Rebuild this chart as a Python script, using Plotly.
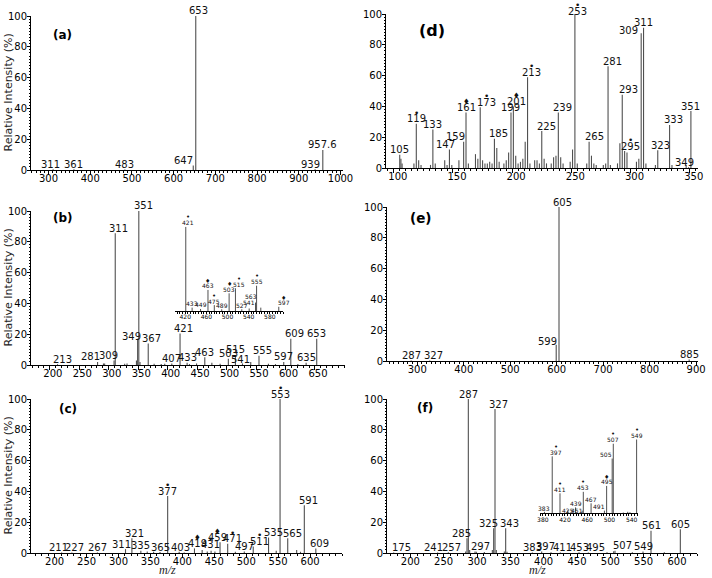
import plotly.graph_objects as go

W, H = 712, 578

# ---------------- data ----------------
y_ticks = [0, 20, 40, 60, 80, 100]

# (a)
a_mz = [311, 361, 483, 647, 653, 939, 957.6]
a_int = [0.5, 0.5, 0.3, 3, 100, 0.5, 13]
a_lab = ["311", "361", "483", "647", "653", "939", "957.6"]
a_ticks = [300, 400, 500, 600, 700, 800, 900, 1000]

# (b) main
b_mz = [213, 281, 309, 311, 349, 351, 367, 407, 421, 433, 463, 503, 515, 541, 555, 597, 609, 635, 653]
b_int = [0.5, 2, 3, 85.5, 17, 100, 14, 1, 20.5, 1.5, 5, 4, 6.5, 2, 6, 2, 17, 1.5, 17]
b_lab = [str(v) for v in b_mz]
b_minor_mz = [291, 293, 327, 331, 347, 353, 377, 389, 395, 437, 449, 475, 489, 527, 571, 583, 621]
b_minor_int = [1, 1, 0.8, 1, 3, 2, 0.8, 0.6, 0.8, 0.6, 1, 1.5, 0.8, 1, 0.8, 0.6, 0.6]
b_ticks = [200, 250, 300, 350, 400, 450, 500, 550, 600, 650]

# (b) inset
bi_mz = [421, 433, 449, 463, 475, 489, 503, 515, 527, 541, 553, 555, 563, 597]
bi_int = [100, 4, 2.4, 25, 7, 2, 21, 27, 2, 3, 10, 30, 4, 5]
bi_lab = ["421", "433", "449", "463", "475", "489", "503", "515", "527", "541", "", "555", "563", "597"]
bi_dot = [421, 475, 515, 555]
bi_diamond = [463, 503, 597]
bi_ticks = [420, 460, 500, 540, 580]

# (c)
c_mz = [211, 227, 267, 311, 321, 335, 365, 377, 403, 419, 431, 459, 471, 497, 511, 535, 553, 565, 591, 609]
c_int = [0.3, 0.3, 0.3, 2.5, 9.5, 1.5, 0.6, 37, 0.4, 3, 2, 7, 6, 1, 4.3, 10, 100, 9.5, 31, 3]
c_lab = [str(v) for v in c_mz]
c_minor_mz = [345, 355, 395, 439, 445, 451, 483, 547, 579, 585]
c_minor_int = [1, 0.8, 0.8, 1, 1.5, 1, 0.8, 1.5, 2, 0.8]
c_dot = [377, 431, 471, 511, 553]
c_diamond = [419, 459]
c_ticks = [200, 250, 300, 350, 400, 450, 500, 550, 600]

# (d)
d_mz = [105, 119, 133, 147, 159, 161, 173, 185, 199, 201, 213, 225, 239, 253, 265, 281, 293, 295, 309, 311, 323, 333, 349, 351]
d_int = [8.6, 28.7, 25, 12, 17, 36, 39.5, 19, 36, 40, 59, 24, 36, 100, 17, 66, 47.5, 11, 87.5, 91, 11.5, 28, 0.5, 37]
d_lab = [str(v) for v in d_mz]
d_minor_mz = [106, 107, 117, 121, 123, 131, 135, 143, 145, 149, 155, 163, 169, 171, 175, 177, 179, 181, 183,
              187, 189, 193, 195, 197, 203, 205, 207, 209, 211, 215, 219, 221, 223, 227, 229, 233, 235, 237,
              241, 243, 249, 251, 255, 263, 267, 269, 271, 277, 279, 283, 289, 291, 297, 305, 307, 313, 321, 335, 347]
d_minor_int = [6, 3, 3, 5, 2, 2, 3, 5, 2, 2, 5, 3, 9, 6, 5, 3, 3, 4, 3,
               13, 4, 3, 5, 10, 8, 3, 4, 6, 17, 3, 5, 5, 3, 6, 3, 3, 7, 8,
               7, 3, 4, 12, 3, 3, 8, 3, 2, 2, 3, 2, 3, 16, 10, 4, 6, 3, 2, 2, 2]
d_dot = [119, 173, 213, 253, 295]
d_diamond = [161, 201]
d_ticks = [100, 150, 200, 250, 300, 350]

# (e)
e_mz = [287, 327, 599, 605, 885]
e_int = [0.3, 0.3, 10.5, 100, 1]
e_lab = [str(v) for v in e_mz]
e_ticks = [300, 400, 500, 600, 700, 800, 900]

# (f) main
f_mz = [175, 241, 257, 285, 287, 297, 325, 327, 343, 383, 397, 411, 453, 495, 507, 549, 561, 605]
f_int = [0.3, 0.3, 0.5, 9.5, 100, 1, 16, 93.5, 16, 0.3, 1, 0.5, 0.5, 0.5, 1.5, 1, 14.5, 15.5]
f_lab = [str(v) for v in f_mz]
f_minor_mz = [283, 289, 299, 311, 323, 329, 341, 345, 425, 467, 505, 533, 581]
f_minor_int = [1, 2, 0.8, 0.6, 2, 2, 1, 0.8, 0.3, 0.4, 1.2, 0.5, 0.5]
f_ticks = [200, 250, 300, 350, 400, 450, 500, 550, 600]

# (f) inset
fi_mz = [383, 397, 411, 425, 439, 451, 453, 467, 491, 495, 505, 507, 525, 533, 537, 549]
fi_int = [2, 77, 27, 4, 8, 3.6, 29, 13.5, 3.6, 37, 74, 94, 1, 2, 1.5, 100]
fi_lab = ["383", "397", "411", "425", "439", "451", "453", "467", "491", "495", "505", "507", "", "", "", "549"]
fi_dot = [397, 411, 453, 507, 549]
fi_diamond = [495]
fi_ticks = [380, 420, 460, 500, 540]

# ---------------- layout config (positions / styles) ----------------
# domains in pixels: (left, right, top, bottom)
panels = {
    "a": dict(n=1, dom=(31, 343, 16, 170), rng=(258, 1006), ticks=a_ticks, minor=10, tshift=0),
    "b": dict(n=2, dom=(31, 345, 211, 365), rng=(168, 701), ticks=b_ticks, minor=10, tshift=3),
    "c": dict(n=3, dom=(31, 342, 399, 553), rng=(163, 650), ticks=c_ticks, minor=10, tshift=0),
    "d": dict(n=4, dom=(386, 698, 14, 168), rng=(93.4, 357), ticks=d_ticks, minor=5, tshift=4),
    "e": dict(n=5, dom=(387, 698, 207, 361), rng=(235, 904), ticks=e_ticks, minor=10, tshift=0),
    "f": dict(n=6, dom=(387, 697, 399, 553), rng=(165, 630), ticks=f_ticks, minor=10, tshift=0),
    "bi": dict(n=7, dom=(175, 283, 226.7, 311), rng=(400.6, 605), ticks=bi_ticks, minor=5, tshift=0),
    "fi": dict(n=8, dom=(540, 638, 439.3, 513.3), rng=(375, 551.5), ticks=fi_ticks, minor=5, tshift=0),
}

# label offsets (dx, dy) in px
shifts = {
    "a": {"311": (-3, 0), "647": (-10, 0), "653": (3, 0), "939": (-5, 0)},
    "b": {"213": (5, 0), "281": (-7, 0), "309": (-6, 0), "311": (3, 0), "349": (-6, -3), "351": (5, 0),
          "367": (3, 0), "421": (3, 0), "541": (-10, -3), "555": (4, 0), "609": (4, 0)},
    "bi": {"421": (2, 0), "515": (4, 0), "563": (-10, 7), "597": (5, 0), "541": (0, 2)},
    "c": {"211": (-3, 0), "227": (3, 0), "311": (-4, 0), "321": (3, 0), "403": (-4, 0), "419": (3, 0),
          "431": (8, 0), "459": (-3, 0), "471": (5, 0), "511": (6, 0), "535": (5, 0), "565": (5, 0),
          "591": (4, 0), "609": (4, 0)},
    "d": {"147": (-4, 0), "159": (-8, 0), "173": (6, 0), "185": (4, 0), "201": (3, 0), "213": (4, 0),
          "225": (5, 0), "239": (4, 0), "253": (3, -2), "265": (5, 0), "281": (4, 0), "293": (6, 0),
          "295": (6, 0), "309": (-13, -2), "323": (3, 0), "333": (4, 0), "349": (-4, 0)},
    "e": {"327": (4, 0), "599": (-9, -2), "605": (3, 0)},
    "f": {"175": (8, 0), "241": (-4, 0), "257": (3, 0), "285": (-6, 0), "297": (5, 0), "325": (-5, 0),
          "327": (3, 0), "343": (4, 0), "397": (4, 0), "411": (11, 0), "495": (-12, 0), "507": (7, 0)},
    "fi": {"397": (4, 0), "451": (-5, -4), "425": (0, -4), "491": (-5, 0), "505": (-6, 0), "383": (0, -1)},
}

FONT = "DejaVu Sans"
STICK = "#505050"

fig = go.Figure()
annotations = []


def sticks(mz, inten):
    xs, ys = [], []
    for m, h in zip(mz, inten):
        xs += [m, m, None]
        ys += [0, h, None]
    return xs, ys


def add_panel(key, mz, inten, labels, dots=(), diamonds=(), inset=False):
    p = panels[key]
    n = p["n"]
    xs, ys = sticks(mz, inten)
    fig.add_trace(go.Scatter(x=xs, y=ys, mode="lines",
                             line=dict(color=STICK, width=1.1 if not inset else 1.0),
                             xaxis=f"x{n}", yaxis=f"y{n}", hoverinfo="skip", showlegend=False))
    fs = 6 if inset else 10
    base = 4 if inset else 5
    mk = 5.5 if inset else 6
    sh = shifts.get(key, {})
    for m, h, lab in zip(mz, inten, labels):
        if not lab:
            continue
        dx, dy = sh.get(lab, (0, 0))
        annotations.append(dict(x=m, y=h, xref=f"x{n}", yref=f"y{n}", text=lab, showarrow=False,
                                xanchor="center", yanchor="middle", xshift=dx, yshift=base + dy,
                                font=dict(family=FONT, size=fs, color="#111")))
        sym = None
        if m in dots:
            sym, ss = "•", (7 if inset else 9)
        elif m in diamonds:
            sym, ss = "♦", (6 if inset else 7.5)
        if sym:
            annotations.append(dict(x=m, y=h, xref=f"x{n}", yref=f"y{n}", text=sym, showarrow=False,
                                    xanchor="center", yanchor="middle", xshift=dx,
                                    yshift=base + dy + mk,
                                    font=dict(family=FONT, size=ss, color="#111")))


add_panel("a", a_mz, a_int, a_lab)
add_panel("b", b_mz + b_minor_mz, b_int + b_minor_int, b_lab + [""] * len(b_minor_mz))
add_panel("c", c_mz + c_minor_mz, c_int + c_minor_int, c_lab + [""] * len(c_minor_mz), c_dot, c_diamond)
add_panel("d", d_mz + d_minor_mz, d_int + d_minor_int, d_lab + [""] * len(d_minor_mz), d_dot, d_diamond)
add_panel("e", e_mz, e_int, e_lab)
add_panel("f", f_mz + f_minor_mz, f_int + f_minor_int, f_lab + [""] * len(f_minor_mz))
add_panel("bi", bi_mz, bi_int, bi_lab, bi_dot, bi_diamond, inset=True)
add_panel("fi", fi_mz, fi_int, fi_lab, fi_dot, fi_diamond, inset=True)

layout = dict(width=W, height=H, margin=dict(l=0, r=0, t=0, b=0), paper_bgcolor="white",
              plot_bgcolor="rgba(0,0,0,0)", showlegend=False, hovermode=False)

for key, p in panels.items():
    n = p["n"]
    l, r, t, b = p["dom"]
    inset = key in ("bi", "fi")
    xa = dict(domain=[l / W, r / W], range=list(p["rng"]), anchor=f"y{n}",
              showline=True, linecolor="black", linewidth=1, mirror=False,
              ticks="outside", ticklen=2 if inset else 4, tickwidth=1, tickcolor="black",
              tickmode="array", tickvals=p["ticks"], ticktext=[str(v) for v in p["ticks"]],
              minor=dict(ticks="outside", dtick=p["minor"], tick0=0, ticklen=1.5 if inset else 2,
                         tickcolor="black", tickwidth=1, showgrid=False),
              showgrid=False, zeroline=False, automargin=False, fixedrange=True,
              ticklabelshift=p["tshift"], ticklabelstandoff=-2 if inset else -5,
              tickfont=dict(family=FONT, size=6 if inset else 10, color="black"))
    ya = dict(domain=[1 - b / H, 1 - t / H], range=[0, 100], anchor=f"x{n}",
              showgrid=False, zeroline=False, automargin=False, fixedrange=True)
    if inset:
        ya.update(visible=False)
    else:
        ya.update(showline=True, linecolor="black", linewidth=1,
                  ticks="outside", ticklen=3, tickwidth=1, tickcolor="black",
                  tickmode="array", tickvals=y_ticks, ticktext=[str(v) for v in y_ticks],
                  minor=dict(ticks="outside", dtick=2, tick0=0, ticklen=1.5, tickcolor="black",
                             tickwidth=1, showgrid=False),
                  ticklabelstandoff=-2,
                  tickfont=dict(family=FONT, size=10, color="black"))
    sfx = "" if n == 1 else str(n)
    layout[f"xaxis{sfx}"] = xa
    layout[f"yaxis{sfx}"] = ya

# panel letters
letters = [("(a)", 62.5, 35, 12), ("(b)", 63.3, 217.5, 12), ("(c)", 67.5, 408.7, 12),
           ("(d)", 431.7, 30, 16), ("(e)", 421.2, 218.3, 13.5), ("(f)", 425, 408.3, 12)]
for txt, x, y, s in letters:
    annotations.append(dict(x=x / W, y=1 - y / H, xref="paper", yref="paper", text=f"<b>{txt}</b>",
                            showarrow=False, xanchor="center", yanchor="middle",
                            font=dict(family=FONT, size=s, color="black")))

# y-axis titles (left column)
for key in ("a", "b", "c"):
    l, r, t, b = panels[key]["dom"]
    annotations.append(dict(x=7.5 / W, y=1 - (t + b) / 2 / H, xref="paper", yref="paper",
                            text="Relative Intensity (%)", textangle=-90, showarrow=False,
                            xanchor="center", yanchor="middle",
                            font=dict(family=FONT, size=11, color="#222")))

# m/z labels
for x in (167, 537):
    annotations.append(dict(x=x / W, y=0, xref="paper", yref="paper", text="<i>m/z</i>",
                            showarrow=False, xanchor="center", yanchor="bottom", borderpad=0,
                            font=dict(family="Liberation Serif", size=12, color="#222")))

layout["annotations"] = annotations
fig.update_layout(**layout)
fig.write_html("out.html", config={"displayModeBar": False, "staticPlot": True},
               post_script="document.body.style.margin='0';document.body.style.padding='0';"
                           "document.documentElement.style.overflow='hidden';")
